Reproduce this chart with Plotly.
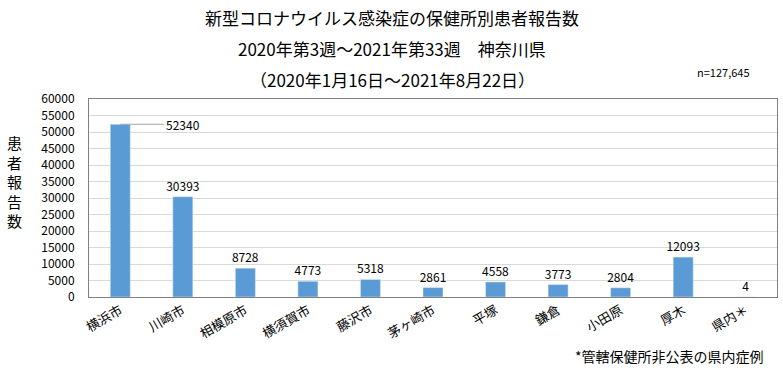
import plotly.graph_objects as go

categories = ["横浜市", "川崎市", "相模原市", "横須賀市", "藤沢市", "茅ヶ崎市", "平塚", "鎌倉", "小田原", "厚木", "県内＊"]
values = [52340, 30393, 8728, 4773, 5318, 2861, 4558, 3773, 2804, 12093, 4]
tick_vals = list(range(0, 60001, 5000))

FONT = "Noto Sans CJK JP"
BAR = "#5B9BD5"
PH = 198  # plot height in px
PW = 688

fig = go.Figure()
fig.add_trace(go.Bar(
    x=categories, y=values, marker_color=BAR, width=0.32,
    text=["" if i == 0 else str(v) for i, v in enumerate(values)],
    textposition="outside", constraintext="none",
    textfont=dict(size=12, color="#000", family=FONT),
    cliponaxis=False,
))

fig.add_annotation(x=categories[0], y=values[0], text=str(values[0]),
                   showarrow=True, arrowhead=0, arrowwidth=1, arrowcolor="#A6A6A6",
                   ax=44, ay=0, xanchor="left",
                   font=dict(size=12, color="#000", family=FONT))

fig.update_layout(
    width=783, height=372,
    margin=dict(l=89, r=6, t=99, b=75, autoexpand=False),
    plot_bgcolor="white", paper_bgcolor="white",
    showlegend=False,
    font=dict(family=FONT, color="#000"),
)
fig.update_xaxes(showline=True, linecolor="#808080", mirror=True, tickangle=-30,
                 tickfont=dict(size=13, family=FONT), ticks="", showgrid=False,
                 automargin=False)
fig.update_yaxes(range=[0, 60000], tickvals=tick_vals, ticktext=[str(t) for t in tick_vals],
                 showline=True, linecolor="#808080", mirror=True,
                 gridcolor="#D9D9D9", gridwidth=1, tickfont=dict(size=12, family=FONT),
                 ticks="", zeroline=False, automargin=False, ticklabelstandoff=11)


def py(ypx):
    return 1 - (ypx - 99) / PH


def px(xpx):
    return (xpx - 89) / PW


title_lines = [
    ("新型コロナウイルス感染症の保健所別患者報告数", 17),
    ("2020年第3週～2021年第33週　神奈川県", 48),
    ("（2020年1月16日～2021年8月22日）", 80),
]
for txt, y in title_lines:
    fig.add_annotation(text=txt, xref="paper", yref="paper", x=px(392), xanchor="center",
                       y=py(y), yanchor="middle", showarrow=False,
                       font=dict(size=17, family=FONT, color="#000"))

fig.add_annotation(text="n=127,645", xref="paper", yref="paper", x=px(752), xanchor="right",
                   y=py(72), yanchor="middle", showarrow=False,
                   font=dict(size=11, family=FONT, color="#000"))

fig.add_annotation(text="<br>".join("患者報告数"), xref="paper", yref="paper",
                   x=px(14), xanchor="center", y=py(181), yanchor="middle", align="center",
                   showarrow=False, font=dict(size=15, family=FONT, color="#000"))

fig.add_annotation(text="*管轄保健所非公表の県内症例", xref="paper", yref="paper",
                   x=px(766), xanchor="right", y=py(356), yanchor="middle",
                   showarrow=False, font=dict(size=14, family=FONT, color="#000"))

fig.write_html("out.html", config={"displayModeBar": False},
               post_script="document.body.style.margin='0';")
